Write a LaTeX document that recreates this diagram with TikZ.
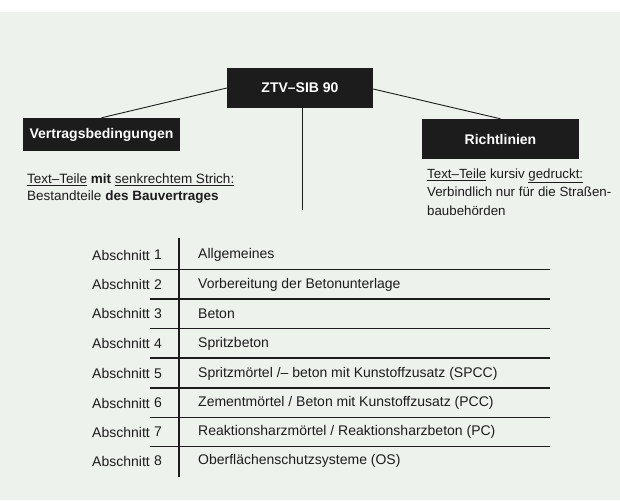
\documentclass[tikz,border=0pt]{standalone}
\usepackage{fontspec}
\setmainfont{Liberation Sans}
\usepackage{tikz}
\usetikzlibrary{positioning}
\definecolor{papier}{RGB}{237,243,236}
\definecolor{tinte}{RGB}{28,28,28}

\begin{document}
\begin{tikzpicture}[x=1pt, y=-1pt,
	kasten/.style={fill=tinte, text=white, inner sep=0pt, minimum width=157pt,
		font=\fontsize{14}{16}\selectfont\bfseries},
	notiz/.style={inner sep=0pt, align=left, text=tinte, anchor=west},
	zelle/.style={inner sep=0pt, text=tinte, font=\fontsize{14}{16}\selectfont},
	linie/.style={draw=tinte, line width=1.2pt}]
	% Papier
	\fill [papier] (0,0) rectangle (620,500);
	\fill [white] (0,0) rectangle (620,12);
	\useasboundingbox (0,0) rectangle (620,500);
		% Kopf
		\node [kasten, minimum width=146pt, minimum height=40pt] (ztv) at (300,88) {ZTV--SIB 90};
		\node [kasten, minimum height=33pt] (vertrag) at (101.5,134.5) {Vertragsbedingungen};
		\node [kasten, minimum height=40pt] (richtlinien) at (500.5,139) {Richtlinien};
		\coordinate (stamm) at (302,210);
		\draw [linie, line width=0.9pt] (ztv.west) -- (vertrag.north);
		\draw [linie, line width=0.9pt] ([yshift=-1pt]ztv.east) -- (richtlinien.north);
		\draw [linie, line width=1pt] ([xshift=2pt]ztv.south) -- (stamm);
		% Erlaeuterungen
		\node [notiz, font=\fontsize{13.5}{17}\selectfont] (links) at (27,188.5)
			{\underline{Text--Teile} \textbf{mit} \underline{senkrechtem Strich:}\\
			 Bestandteile \textbf{des Bauvertrages}};
		\node [notiz, font=\fontsize{13.3}{18.5}\selectfont] (rechts) at (427,192)
			{\underline{Text--Teile} kursiv \underline{gedruckt:}\\
			 Verbindlich nur für die Straßen-\\
			 baubehörden};
		% Abschnitte
		\newcommand \zeile[3]
			{\node [zelle, anchor=west] (ab#1) at (92,#2) {Abschnitt};
			 \node [zelle] (nr#1) at (158,#2) {#1};
			 \node [zelle, anchor=west] (txt#1) at (198,#2) {#3};}
		\newcommand \trenn[1]
			{\draw [linie] (150,#1) -- (550,#1);}
		\zeile{1}{255}{Allgemeines}
			\trenn{269.5}
		\zeile{2}{284.5}{Vorbereitung der Betonunterlage}
			\trenn{299}
		\zeile{3}{313.5}{Beton}
			\trenn{328.5}
		\zeile{4}{343.5}{Spritzbeton}
			\trenn{358}
		\zeile{5}{373.5}{Spritzmörtel /-- beton mit Kunstoffzusatz (SPCC)}
			\trenn{388}
		\zeile{6}{403}{Zementmörtel / Beton mit Kunstoffzusatz (PCC)}
			\trenn{417.5}
		\zeile{7}{432}{Reaktionsharzmörtel / Reaktionsharzbeton (PC)}
			\trenn{446.5}
		\zeile{8}{461}{Oberflächenschutzsysteme (OS)}
		\coordinate (spalte oben) at (179,238);
		\coordinate (spalte unten) at (179,477);
		\draw [linie] (spalte oben) -- (spalte unten);
	\end{tikzpicture}
\end{document}
